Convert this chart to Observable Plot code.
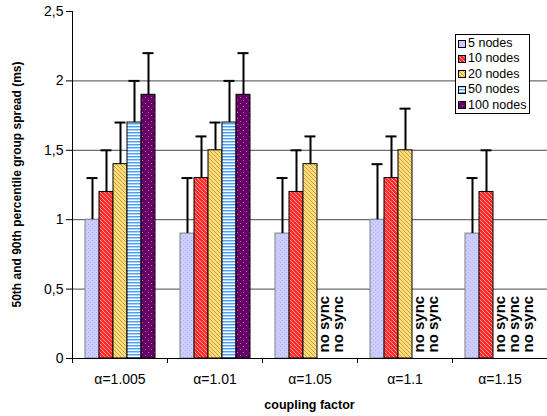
<!DOCTYPE html>
<html>
<head>
<meta charset="utf-8">
<script src="https://cdn.jsdelivr.net/npm/d3@7"></script>
<script src="https://cdn.jsdelivr.net/npm/@observablehq/plot@0.6"></script>
<style>
  html, body { margin: 0; padding: 0; background: #fff; }
  #chart { position: relative; width: 547px; height: 416px; font-family: "Liberation Sans", Arial, sans-serif; }
  #legend { position: absolute; left: 455px; top: 34px; width: 75px; height: 80px; border: 1px solid #000; background: #fff; box-sizing: border-box; font-size: 12.5px; color: #000; padding: 1px 0 0 2px; }
  #legend div { height: 15.4px; line-height: 15.4px; white-space: nowrap; display: flex; align-items: center; }
  #legend svg { margin-right: 2px; }
</style>
</head>
<body>
<svg width="0" height="0" style="position:absolute">
  <defs>
    <pattern id="p5" width="4" height="4" patternUnits="userSpaceOnUse">
      <rect width="4" height="4" fill="#ccccff"/>
      <rect x="0" y="0" width="1" height="1" fill="#b4b4ee"/>
      <rect x="2" y="2" width="1" height="1" fill="#b4b4ee"/>
    </pattern>
    <pattern id="p10" width="4" height="4" patternUnits="userSpaceOnUse">
      <rect width="4" height="4" fill="#ff2a2a"/>
      <path d="M-1,-1 L5,5 M-1,3 L1,5 M3,-1 L5,1" stroke="#ff9a9a" stroke-width="1"/>
    </pattern>
    <pattern id="p20" width="4" height="4" patternUnits="userSpaceOnUse">
      <rect width="4" height="4" fill="#ffdd7a"/>
      <path d="M-1,-1 L5,5 M-1,3 L1,5 M3,-1 L5,1" stroke="#c9a040" stroke-width="1"/>
    </pattern>
    <pattern id="p50" width="4" height="3" patternUnits="userSpaceOnUse">
      <rect width="4" height="3" fill="#aad4ff"/>
      <rect y="0" width="4" height="1" fill="#4aa0ff"/>
      <rect y="2" width="4" height="1" fill="#ffffff"/>
    </pattern>
    <pattern id="p100" width="6" height="6" patternUnits="userSpaceOnUse">
      <rect width="6" height="6" fill="#660066"/>
      <rect x="1" y="1" width="1" height="1" fill="#c060c0"/>
      <rect x="4" y="4" width="1" height="1" fill="#c060c0"/>
    </pattern>
  </defs>
</svg>
<div id="chart"></div>
<script>
// ---- data ----
const categories = ["α=1.005", "α=1.01", "α=1.05", "α=1.1", "α=1.15"];
const seriesNames = ["5 nodes", "10 nodes", "20 nodes", "50 nodes", "100 nodes"];
// 50th percentile (bar heights), null = no sync
const p50_5   = [1.0, 0.9, 0.9, 1.0, 0.9];
const p50_10  = [1.2, 1.3, 1.2, 1.3, 1.2];
const p50_20  = [1.4, 1.5, 1.4, 1.5, null];
const p50_50  = [1.7, 1.7, null, null, null];
const p50_100 = [1.9, 1.9, null, null, null];
// 90th percentile (error bar tops)
const p90_5   = [1.3, 1.3, 1.3, 1.4, 1.3];
const p90_10  = [1.5, 1.6, 1.5, 1.6, 1.5];
const p90_20  = [1.7, 1.7, 1.6, 1.8, null];
const p90_50  = [2.0, 2.0, null, null, null];
const p90_100 = [2.2, 2.2, null, null, null];
const yTicks = [0, 0.5, 1, 1.5, 2, 2.5];
const yTickLabels = ["0", "0,5", "1", "1,5", "2", "2,5"];
const gridTicks = [0.5, 1, 1.5, 2];
const noSyncLabel = "no sync";
const yTitle = "50th and 90th percentile group spread (ms)";
const xTitle = "coupling factor";
const patterns = ["url(#p5)", "url(#p10)", "url(#p20)", "url(#p50)", "url(#p100)"];
const outlines = ["#808080", "#000", "#000", "#000", "#000"];

const p50 = [p50_5, p50_10, p50_20, p50_50, p50_100];
const p90 = [p90_5, p90_10, p90_20, p90_50, p90_100];

const rows = [];
const noSync = [];
seriesNames.forEach((s, i) => {
  categories.forEach((c, j) => {
    if (p50[i][j] == null) noSync.push({group: c, series: s});
    else rows.push({group: c, series: s, value: p50[i][j], upper: p90[i][j]});
  });
});

const font = '"Liberation Sans", Arial, sans-serif';

const plot = Plot.plot({
  width: 547,
  height: 416,
  marginLeft: 72,
  marginRight: 0,
  marginTop: 11,
  marginBottom: 58,
  style: {fontFamily: font, fontSize: "14px", color: "#000", background: "transparent"},
  fx: {domain: categories, padding: 0, label: null, axis: null},
  x: {domain: seriesNames, paddingInner: 0, paddingOuter: 0.727, axis: null},
  y: {domain: [0, 2.5], label: null},
  color: {domain: seriesNames, range: patterns},
  marks: [
    Plot.ruleY(gridTicks, {stroke: "#4a4a4a", strokeWidth: 1}),
    Plot.barY(rows, {fx: "group", x: "series", y: "value", fill: "series",
      stroke: d => outlines[seriesNames.indexOf(d.series)], strokeWidth: 1}),
    Plot.ruleX(rows, {fx: "group", x: "series", y1: "value", y2: "upper", stroke: "#000", strokeWidth: 2}),
    Plot.tickY(rows, {fx: "group", x: "series", y: "upper", stroke: "#000", strokeWidth: 2, insetLeft: 1.5, insetRight: 1.5}),
    Plot.text(noSync, {fx: "group", x: "series", y: 0, text: () => noSyncLabel, rotate: -90,
      textAnchor: "start", lineAnchor: "middle", dy: -6, fontWeight: "bold", fontSize: 15, fill: "#000",
      style: "letter-spacing:1px"}),
    Plot.ruleY([0], {stroke: "#000", strokeWidth: 1}),
    Plot.axisY({ticks: yTicks, tickFormat: (d) => yTickLabels[yTicks.indexOf(d)], tickSize: 6, tickPadding: 3, label: null, fontSize: 14, style: "letter-spacing:0.6px"}),
    Plot.axisFx({anchor: "bottom", tickSize: 0, tickPadding: 16, label: null, fontSize: 14, style: "letter-spacing:0.5px"})
  ]
});

document.getElementById("chart").appendChild(plot);

// axis lines, boundary ticks and titles, placed with the plot's own scales
const fxS = plot.scale("fx");
const yS = plot.scale("y");
const svg = d3.select(plot);
const y0 = yS.apply(0), yTop = yS.apply(2.5);
const left = fxS.apply(categories[0]);
const g = svg.append("g").attr("stroke", "#000");
g.append("line").attr("x1", left + 0.5).attr("x2", left + 0.5).attr("y1", yTop).attr("y2", y0);
categories.forEach(c => {
  const x = Math.round(fxS.apply(c)) + 0.5;
  g.append("line").attr("x1", x).attr("x2", x).attr("y1", y0).attr("y2", y0 + 5);
});
const right = fxS.apply(categories[categories.length - 1]) + fxS.bandwidth;
svg.append("text")
  .attr("transform", `translate(18,${(y0 + yTop) / 2}) rotate(-90)`)
  .attr("text-anchor", "middle").attr("dominant-baseline", "middle")
  .attr("font-weight", "bold").attr("font-size", 12).attr("fill", "#000")
  .text(yTitle);
svg.append("text")
  .attr("x", (left + right) / 2).attr("y", 409)
  .attr("text-anchor", "middle")
  .attr("font-weight", "bold").attr("font-size", 12.5).attr("fill", "#000")
  .text(xTitle);

// legend
const legend = d3.select("#chart").append("div").attr("id", "legend");
seriesNames.forEach((s, i) => {
  const row = legend.append("div");
  const sw = row.append("svg").attr("width", 8).attr("height", 8);
  sw.append("rect").attr("x", 0.5).attr("y", 0.5).attr("width", 7).attr("height", 7)
    .attr("fill", patterns[i]).attr("stroke", "#000").attr("stroke-width", 1);
  row.append("span").text(s);
});
</script>
</body>
</html>
